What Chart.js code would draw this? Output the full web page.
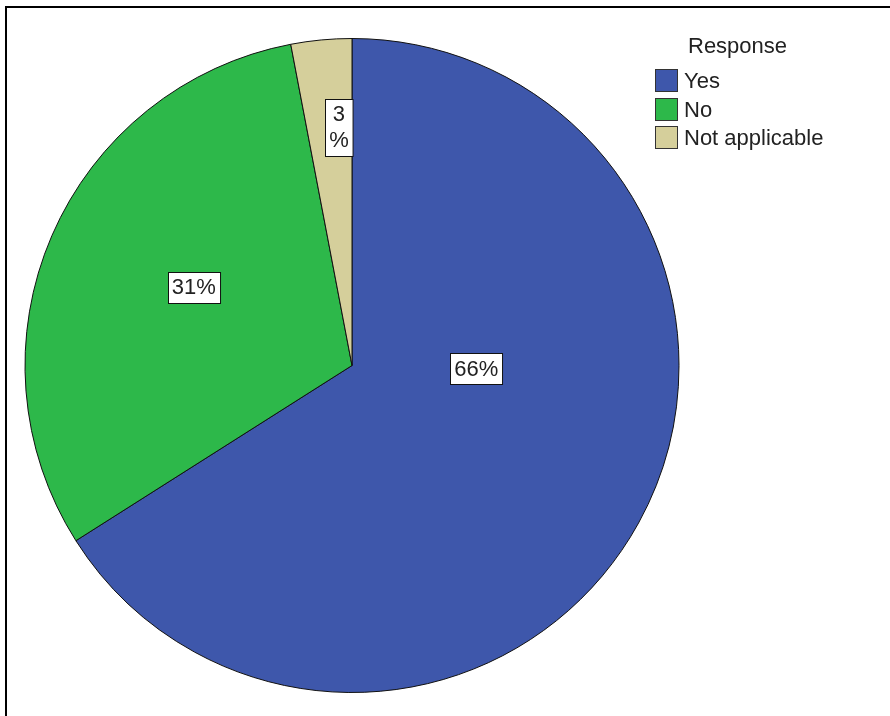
<!DOCTYPE html>
<html>
<head>
<meta charset="utf-8">
<title>Response</title>
<script src="https://cdn.jsdelivr.net/npm/chart.js@4/dist/chart.umd.min.js"></script>
<style>
  html, body { margin: 0; padding: 0; background: #fff; }
  canvas { display: block; }
</style>
</head>
<body>
<canvas id="responseChart" width="890" height="716"></canvas>
<script>
// Survey answers, share of respondents in percent
const categories = ['Yes', 'No', 'Not applicable'];
const shares = [66, 31, 3];
const legendTitle = 'Response';

// Slice fills (SPSS default palette)
const sliceColors = ['#3e57ab', '#2db84a', '#d5cf9b'];

// Where each value box sits: fraction along the slice angle and fraction of the radius
const labelAlong = [0.385, 0.526, 0.71];
const labelRadius = [0.38, 0.54, 0.73];

const FONT = '"Liberation Sans", Arial, sans-serif';

const piePlugin = {
    id: 'piePlugin',
    beforeDraw(chart) {
        const ctx = chart.ctx;
        ctx.save();
        ctx.fillStyle = '#fff';
        ctx.fillRect(0, 0, chart.width, chart.height);
        // outer frame: left and top edges only show in the window
        ctx.strokeStyle = '#000';
        ctx.lineWidth = 2;
        ctx.beginPath();
        ctx.moveTo(6, chart.height + 2);
        ctx.lineTo(6, 7);
        ctx.lineTo(chart.width + 2, 7);
        ctx.stroke();
        ctx.restore();
    },
    afterDatasetsDraw(chart) {
        const ctx = chart.ctx;
        const meta = chart.getDatasetMeta(0);
        const values = chart.data.datasets[0].data;
        ctx.save();
        ctx.font = '22px ' + FONT;
        ctx.textAlign = 'center';
        ctx.textBaseline = 'middle';
        meta.data.forEach((arc, i) => {
            const p = arc.getProps(['x', 'y', 'startAngle', 'endAngle', 'outerRadius'], true);
            const a = p.startAngle + (p.endAngle - p.startAngle) * labelAlong[i];
            const r = p.outerRadius * labelRadius[i];
            const cx = p.x + Math.cos(a) * r;
            const cy = p.y + Math.sin(a) * r;
            const pct = Math.round(values[i]);
            // narrow slices get the number and the percent sign stacked
            const lines = pct < 5 ? [String(pct), '%'] : [pct + '%'];
            const lineH = 26;
            const w = Math.max(...lines.map(t => ctx.measureText(t).width)) + 8;
            const h = lines.length * lineH + 5;
            const bx = Math.round(cx - w / 2) + 0.5;
            const by = Math.round(cy - h / 2) + 0.5;
            ctx.fillStyle = '#fff';
            ctx.fillRect(bx, by, w, h);
            ctx.strokeStyle = '#111';
            ctx.lineWidth = 1;
            ctx.strokeRect(bx, by, w, h);
            ctx.fillStyle = '#222';
            lines.forEach((t, k) => {
                ctx.fillText(t, cx, cy + (k - (lines.length - 1) / 2) * lineH + 1);
            });
        });
        ctx.restore();
    },
    afterDraw(chart) {
        const ctx = chart.ctx;
        ctx.save();
        ctx.font = '22px ' + FONT;
        ctx.textBaseline = 'middle';
        ctx.fillStyle = '#222';
        ctx.textAlign = 'left';
        ctx.fillText(legendTitle, 688, 47);
        chart.data.labels.forEach((label, i) => {
            const y = 80 + i * 28.5;
            ctx.fillStyle = sliceColors[i];
            ctx.fillRect(655.5, Math.round(y - 11) + 0.5, 22, 22);
            ctx.strokeStyle = '#333';
            ctx.lineWidth = 1;
            ctx.strokeRect(655.5, Math.round(y - 11) + 0.5, 22, 22);
            ctx.fillStyle = '#222';
            ctx.fillText(label, 684, y + 2);
        });
        ctx.restore();
    }
};

new Chart(document.getElementById('responseChart').getContext('2d'), {
    type: 'pie',
    data: {
        labels: categories,
        datasets: [{
            data: shares,
            backgroundColor: sliceColors,
            borderColor: '#111',
            borderWidth: 1
        }]
    },
    options: {
        responsive: false,
        animation: false,
        layout: { padding: { left: 24, top: 38, right: 210, bottom: 23 } },
        plugins: {
            legend: { display: false },
            tooltip: { enabled: false }
        }
    },
    plugins: [piePlugin]
});
</script>
</body>
</html>
